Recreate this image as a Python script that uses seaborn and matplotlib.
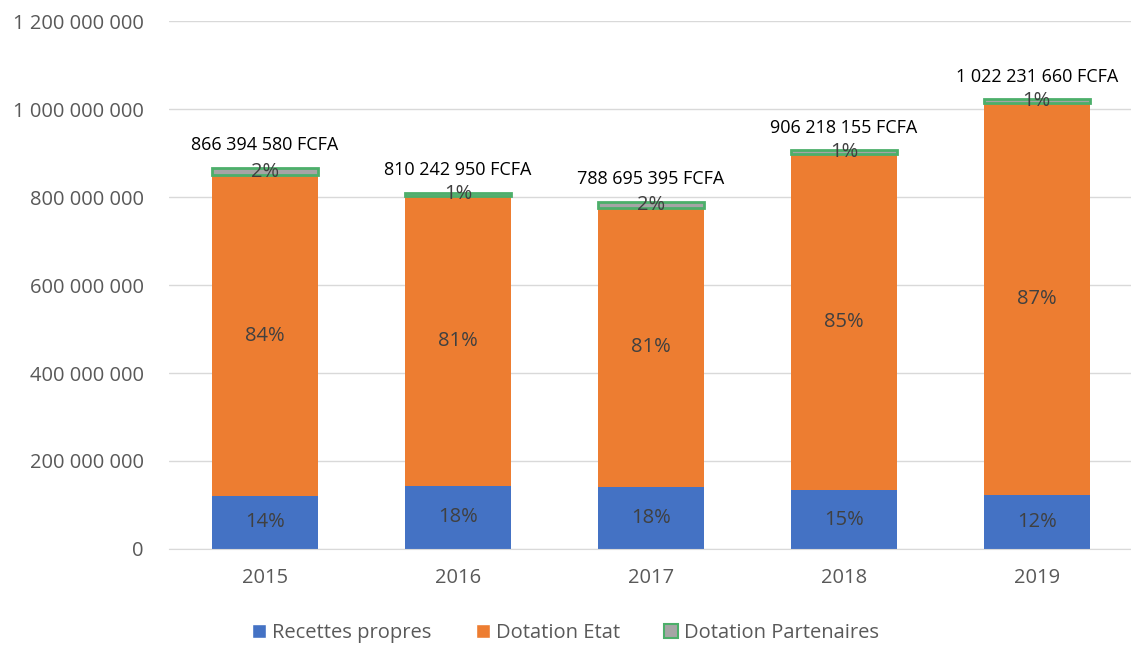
import numpy as np
import pandas as pd
import matplotlib
matplotlib.use('Agg')
import matplotlib.pyplot as plt
import seaborn as sns
from matplotlib.patches import Patch

years = ['2015', '2016', '2017', '2018', '2019']
totals = [866394580, 810242950, 788695395, 906218155, 1022231660]
recettes = [121000000, 143000000, 141000000, 133000000, 123000000]
partenaires = [17000000, 8000000, 13000000, 9000000, 8000000]
etat = [728394580, 659242950, 634695395, 764218155, 891231660]
pct_recettes = ['14%', '18%', '18%', '15%', '12%']
pct_etat = ['84%', '81%', '81%', '85%', '87%']
pct_partenaires = ['2%', '1%', '2%', '1%', '1%']

sns.set_style('white')
plt.rcParams['font.family'] = ['Open Sans', 'DejaVu Sans']

blue = '#4472C4'
orange = '#ED7D31'
grey = '#A5A5A5'
green = '#4CAF6A'

def fmt(v):
    return '{:,}'.format(v).replace(',', ' ')

fig = plt.figure(figsize = (11.31, 6.45), dpi = 100)
ax = fig.add_axes([0.149, 0.149, 0.853, 0.818])

df = pd.DataFrame({'year': years, 'recettes': recettes, 'etat': etat, 'partenaires': partenaires})
bottom_etat = df['recettes']
bottom_part = df['recettes'] + df['etat']

sns.barplot(data = df, x = 'year', y = 'recettes', color = blue, width = 0.55, saturation = 1, linewidth = 0, ax = ax)
sns.barplot(data = df, x = 'year', y = 'etat', bottom = bottom_etat, color = orange, width = 0.55, saturation = 1,
            linewidth = 0, ax = ax)
sns.barplot(data = df, x = 'year', y = 'partenaires', bottom = bottom_part, color = grey, width = 0.55, saturation = 1,
            edgecolor = green, linewidth = 2, ax = ax)

txt = '#404040'
for i in range(len(years)):
    ax.text(i, recettes[i] / 2, pct_recettes[i], ha = 'center', va = 'center', fontsize = 14.5, color = txt)
    ax.text(i, recettes[i] + etat[i] / 2, pct_etat[i], ha = 'center', va = 'center', fontsize = 14.5, color = txt)
    ax.text(i, recettes[i] + etat[i] + partenaires[i] / 2, pct_partenaires[i], ha = 'center', va = 'center',
            fontsize = 14.5, color = txt)
    ax.annotate(fmt(totals[i]) + ' FCFA', (i, totals[i]), xytext = (0, 10), textcoords = 'offset points',
                ha = 'center', va = 'bottom', fontsize = 13, color = 'black')

ax.set_ylim(0, 1200000000)
ax.set_yticks(np.arange(0, 1200000001, 200000000))
ax.set_yticklabels([fmt(int(v)) for v in np.arange(0, 1200000001, 200000000)], fontsize = 14.5, color = '#595959')
ax.set_xlim(-0.5, 4.5)
ax.tick_params(axis = 'x', labelsize = 14.5, labelcolor = '#595959', length = 0, pad = 14)
ax.tick_params(axis = 'y', length = 0, pad = 18)
ax.set_xlabel('')
ax.set_ylabel('')
ax.yaxis.grid(True, color = '#D9D9D9', linewidth = 1)
ax.set_axisbelow(True)
for s in ['top', 'right', 'left']:
    ax.spines[s].set_visible(False)
ax.spines['bottom'].set_color('#D9D9D9')

handles = [Patch(facecolor = blue, label = 'Recettes propres'),
           Patch(facecolor = orange, label = 'Dotation Etat'),
           Patch(facecolor = grey, edgecolor = green, linewidth = 1.5, label = 'Dotation Partenaires')]
fig.legend(handles = handles, loc = 'center', bbox_to_anchor = (0.5, 0.018), ncol = 3, frameon = False,
           fontsize = 14.5, handlelength = 0.7, handleheight = 0.7, handletextpad = 0.3, columnspacing = 2.2,
           labelcolor = '#595959')

plt.savefig('out.png', dpi = 100)
